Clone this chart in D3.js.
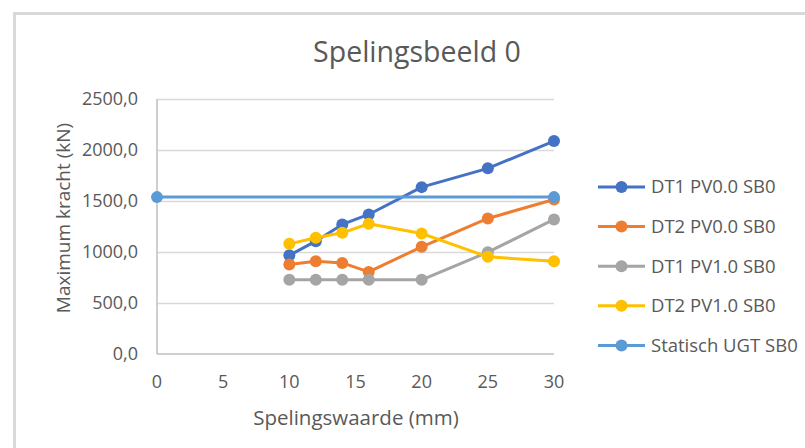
<!DOCTYPE html>
<html>
<head>
<meta charset="utf-8">
<script src="https://cdn.jsdelivr.net/npm/d3@7"></script>
<style>
  body { margin: 0; background: #fff; }
  text { font-family: "Open Sans", "Noto Sans", sans-serif; fill: #595959; }
</style>
</head>
<body>
<svg id="chart"></svg>
<script>
const spelingen = [10, 12, 14, 16, 20, 25, 30];
const dt1Pv0 = [967, 1106, 1270, 1368, 1636, 1820, 2088];
const dt2Pv0 = [877, 910, 893, 805, 1051, 1329, 1515];
const dt1Pv1 = [727, 727, 727, 727, 727, 998, 1319];
const dt2Pv1 = [1080, 1139, 1188, 1277, 1181, 953, 910];
const statischX = [0, 30];
const statischY = [1538, 1538];
const seriesNames = ["DT1 PV0.0 SB0", "DT2 PV0.0 SB0", "DT1 PV1.0 SB0", "DT2 PV1.0 SB0", "Statisch UGT SB0"];
const xTicks = [0, 5, 10, 15, 20, 25, 30];
const yTicks = [0, 500, 1000, 1500, 2000, 2500];

const colors = ["#4472c4", "#ed7d31", "#a5a5a5", "#ffc000", "#5b9bd5"];

const series = [
    { name: seriesNames[0], xs: spelingen, ys: dt1Pv0 },
    { name: seriesNames[1], xs: spelingen, ys: dt2Pv0 },
    { name: seriesNames[2], xs: spelingen, ys: dt1Pv1 },
    { name: seriesNames[3], xs: spelingen, ys: dt2Pv1 },
    { name: seriesNames[4], xs: statischX, ys: statischY }
];

const width = 805, height = 448;
const svg = d3.select("#chart").attr("width", width).attr("height", height);

// chart frame (only top and left visible)
svg.append("rect")
    .attr("x", 14.5).attr("y", 13.5)
    .attr("width", 900).attr("height", 600)
    .attr("fill", "#fff")
    .attr("stroke", "#d9d9d9")
    .attr("stroke-width", 3);

const x = d3.scaleLinear().domain([0, 30]).range([157, 554]);
const y = d3.scaleLinear().domain([0, 2500]).range([354, 99]);

const nl = d3.formatLocale({ decimal: ",", thousands: "", grouping: [3], currency: ["€", ""] });
const fmt = nl.format(".1f");

// gridlines
svg.append("g")
    .selectAll("line")
    .data(yTicks.filter(d => d > 0))
    .enter()
    .append("line")
    .attr("x1", x(0)).attr("x2", x(30))
    .attr("y1", d => Math.round(y(d)) + 0.5)
    .attr("y2", d => Math.round(y(d)) + 0.5)
    .attr("stroke", "#d9d9d9")
    .attr("stroke-width", 1.5);

// axis lines
svg.append("line")
    .attr("x1", x(0)).attr("x2", x(0))
    .attr("y1", y(2500)).attr("y2", y(0))
    .attr("stroke", "#bfbfbf").attr("stroke-width", 1.5);
svg.append("line")
    .attr("x1", x(0)).attr("x2", x(30))
    .attr("y1", y(0)).attr("y2", y(0))
    .attr("stroke", "#bfbfbf").attr("stroke-width", 1.5);

// y tick labels
svg.append("g")
    .selectAll("text")
    .data(yTicks)
    .enter()
    .append("text")
    .attr("x", 138)
    .attr("y", d => y(d))
    .attr("dy", "0.35em")
    .attr("text-anchor", "end")
    .attr("font-size", 18)
    .text(d => fmt(d));

// x tick labels
svg.append("g")
    .selectAll("text")
    .data(xTicks)
    .enter()
    .append("text")
    .attr("x", d => x(d))
    .attr("y", 388)
    .attr("text-anchor", "middle")
    .attr("font-size", 18)
    .text(d => d);

// titles
svg.append("text")
    .attr("x", 417).attr("y", 62)
    .attr("text-anchor", "middle")
    .attr("font-size", 28.5)
    .text("Spelingsbeeld 0");

svg.append("text")
    .attr("x", 356).attr("y", 425)
    .attr("text-anchor", "middle")
    .attr("font-size", 20.5)
    .text("Spelingswaarde (mm)");

svg.append("text")
    .attr("transform", "translate(70,218) rotate(-90)")
    .attr("text-anchor", "middle")
    .attr("font-size", 19)
    .text("Maximum kracht (kN)");

// series
const line = d3.line().x(d => x(d[0])).y(d => y(d[1]));

series.forEach((s, i) => {
    const pts = s.xs.map((v, j) => [v, s.ys[j]]);
    const g = svg.append("g");
    g.append("path")
        .attr("d", line(pts))
        .attr("fill", "none")
        .attr("stroke", colors[i])
        .attr("stroke-width", 3)
        .attr("stroke-linejoin", "round");
    g.selectAll("circle")
        .data(pts)
        .enter()
        .append("circle")
        .attr("cx", d => x(d[0]))
        .attr("cy", d => y(d[1]))
        .attr("r", 6)
        .attr("fill", colors[i]);
});

// legend
const legend = svg.append("g")
    .selectAll("g")
    .data(series)
    .enter()
    .append("g")
    .attr("transform", (d, i) => `translate(598,${187 + i * 39.6})`);

legend.append("line")
    .attr("x1", 0).attr("x2", 47)
    .attr("stroke", (d, i) => colors[i])
    .attr("stroke-width", 3);
legend.append("circle")
    .attr("cx", 23.5).attr("r", 6)
    .attr("fill", (d, i) => colors[i]);
legend.append("text")
    .attr("x", 53)
    .attr("dy", "0.35em")
    .attr("font-size", 18.5)
    .text(d => d.name);
</script>
</body>
</html>
